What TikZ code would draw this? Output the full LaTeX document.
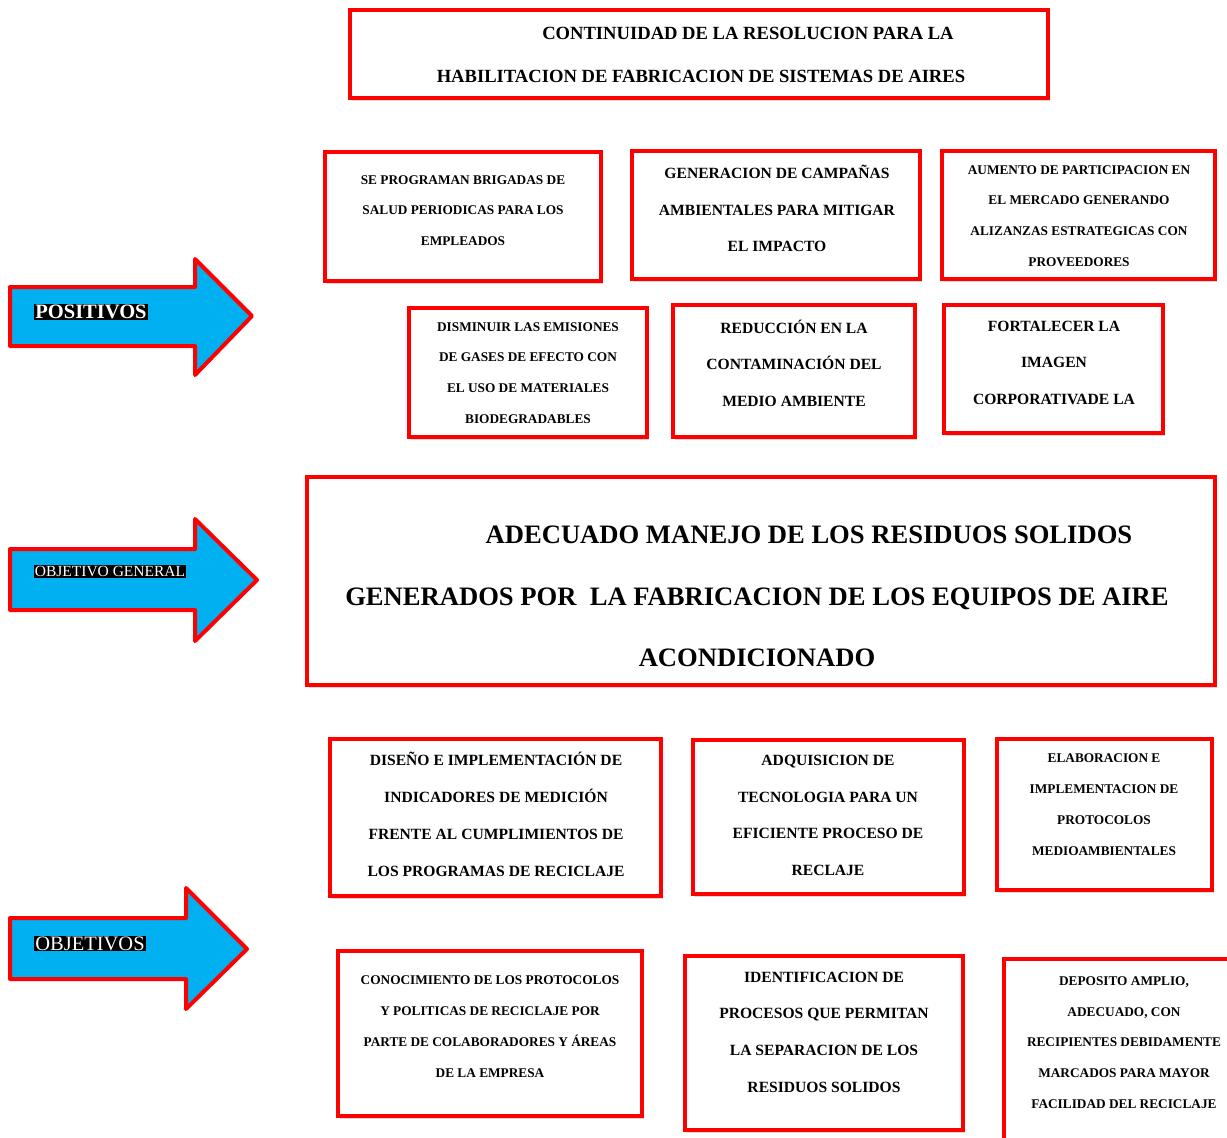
\documentclass[tikz,border=0pt]{standalone}
\usepackage{fontspec}
\setmainfont{Liberation Serif}
\usetikzlibrary{shadows}
\definecolor{arrowblue}{RGB}{0,176,240}
\tikzset{
  redbox/.style={draw=red, line width=3.5pt, fill=white, inner sep=0pt,
    drop shadow={opacity=0.3, shadow xshift=1.5pt, shadow yshift=-2.5pt}},
  bigarrow/.style={fill=arrowblue, draw=red, line width=4pt, line join=round},
  tag/.style={fill=black, text=white, inner sep=1pt},
  smalltxt/.style={align=center, inner sep=0pt, font=\fontsize{13.3}{30.8}\selectfont\bfseries},
  medtxt/.style={align=center, inner sep=0pt, font=\fontsize{15.6}{36.8}\selectfont\bfseries},
  titletxt/.style={align=center, inner sep=0pt, font=\fontsize{18.6}{43}\selectfont\bfseries},
  bigtxt/.style={align=center, inner sep=0pt, font=\fontsize{26.6}{61.5}\selectfont\bfseries},
}
\begin{document}
\begin{tikzpicture}[x=1pt,y=-1pt]
\clip (0,0) rectangle (1227,1138);
\fill[white] (0,0) rectangle (1227,1138);

% arrows
\draw[bigarrow] (10,287) -- (195,287) -- (195,259) -- (252,316) -- (195,375) -- (195,346) -- (10,346) -- cycle;
\draw[bigarrow] (10,549) -- (195,549) -- (195,519) -- (257,580) -- (195,641) -- (195,610) -- (10,610) -- cycle;
\draw[bigarrow] (10,918) -- (186,918) -- (186,888) -- (247,949) -- (186,1009) -- (186,979) -- (10,979) -- cycle;

\node[tag, font=\fontsize{20.5}{22}\selectfont\bfseries] (lpos) at (91,312) {POSITIVOS};
\node[tag, font=\fontsize{15.5}{17}\selectfont] (lgen) at (110,571.5) {OBJETIVO GENERAL};
\node[tag, font=\fontsize{20.5}{22}\selectfont] (lobj) at (90,943.5) {OBJETIVOS};

% boxes
\node[redbox, minimum width=698pt, minimum height=88pt] (title) at (699,54) {};
\node[redbox, minimum width=276pt, minimum height=129pt] (b1) at (463,216.5) {};
\node[redbox, minimum width=288pt, minimum height=128pt] (b2) at (776,215) {};
\node[redbox, minimum width=273pt, minimum height=128pt] (b3) at (1078.5,215) {};
\node[redbox, minimum width=238pt, minimum height=129pt] (b4) at (528,372.5) {};
\node[redbox, minimum width=242pt, minimum height=132pt] (b5) at (794,371) {};
\node[redbox, minimum width=219pt, minimum height=128pt] (b6) at (1053.5,369) {};
\node[redbox, minimum width=908pt, minimum height=208pt] (big) at (761,581) {};
\node[redbox, minimum width=331pt, minimum height=157pt] (b7) at (495.5,817.5) {};
\node[redbox, minimum width=271pt, minimum height=154pt] (b8) at (828.5,817) {};
\node[redbox, minimum width=215pt, minimum height=151pt] (b9) at (1104.5,814.5) {};
\node[redbox, minimum width=304pt, minimum height=165pt] (b10) at (490,1033.5) {};
\node[redbox, minimum width=278pt, minimum height=174pt] (b11) at (824,1043) {};
\node[redbox, minimum width=256pt, minimum height=211pt] (b12) at (1132,1064.5) {};

% texts
\node[titletxt] (ttitle) at (701,54.5) {\hspace*{94pt}CONTINUIDAD DE LA RESOLUCION PARA LA\\HABILITACION DE FABRICACION DE SISTEMAS DE AIRES};
\node[smalltxt] (t1) at (463,210.5) {SE PROGRAMAN BRIGADAS DE\\SALUD PERIODICAS PARA LOS\\EMPLEADOS};
\node[medtxt, font=\fontsize{15.6}{36.5}\selectfont\bfseries] (t2) at (777,208.5) {GENERACION DE CAMPAÑAS\\AMBIENTALES PARA MITIGAR\\EL IMPACTO};
\node[smalltxt] (t3) at (1079,216) {AUMENTO DE PARTICIPACION EN\\EL MERCADO GENERANDO\\ALIZANZAS ESTRATEGICAS CON\\PROVEEDORES};
\node[smalltxt] (t4) at (528,373) {DISMINUIR LAS EMISIONES\\DE GASES DE EFECTO CON\\EL USO DE MATERIALES\\BIODEGRADABLES};
\node[medtxt, font=\fontsize{15.6}{36.5}\selectfont\bfseries] (t5) at (794,363) {REDUCCIÓN EN LA\\CONTAMINACIÓN DEL\\MEDIO AMBIENTE};
\node[medtxt, font=\fontsize{15.6}{36.5}\selectfont\bfseries] (t6) at (1054,362.5) {FORTALECER LA\\IMAGEN\\CORPORATIVADE LA};
\node[bigtxt] (tbig) at (757,596.5) {\hspace*{104pt}ADECUADO MANEJO DE LOS RESIDUOS SOLIDOS\\GENERADOS POR\ \ LA FABRICACION DE LOS EQUIPOS DE AIRE\\ACONDICIONADO};
\node[medtxt] (t7) at (496,814.5) {DISEÑO E IMPLEMENTACIÓN DE\\INDICADORES DE MEDICIÓN\\FRENTE AL CUMPLIMIENTOS DE\\LOS PROGRAMAS DE RECICLAJE};
\node[medtxt] (t8) at (828,815.5) {ADQUISICION DE\\TECNOLOGIA PARA UN\\EFICIENTE PROCESO DE\\RECLAJE};
\node[smalltxt] (t9) at (1104,804.5) {ELABORACION E\\IMPLEMENTACION DE\\PROTOCOLOS\\MEDIOAMBIENTALES};
\node[smalltxt] (t10) at (490,1026.5) {CONOCIMIENTO DE LOS PROTOCOLOS\\Y POLITICAS DE RECICLAJE POR\\PARTE DE COLABORADORES Y ÁREAS\\DE LA EMPRESA};
\node[medtxt, font=\fontsize{15.6}{36.7}\selectfont\bfseries] (t11) at (824,1032) {IDENTIFICACION DE\\PROCESOS QUE PERMITAN\\LA SEPARACION DE LOS\\RESIDUOS SOLIDOS};
\node[smalltxt] (t12) at (1124,1042.5) {DEPOSITO AMPLIO,\\ADECUADO, CON\\RECIPIENTES DEBIDAMENTE\\MARCADOS PARA MAYOR\\FACILIDAD DEL RECICLAJE};
\end{tikzpicture}
\end{document}
